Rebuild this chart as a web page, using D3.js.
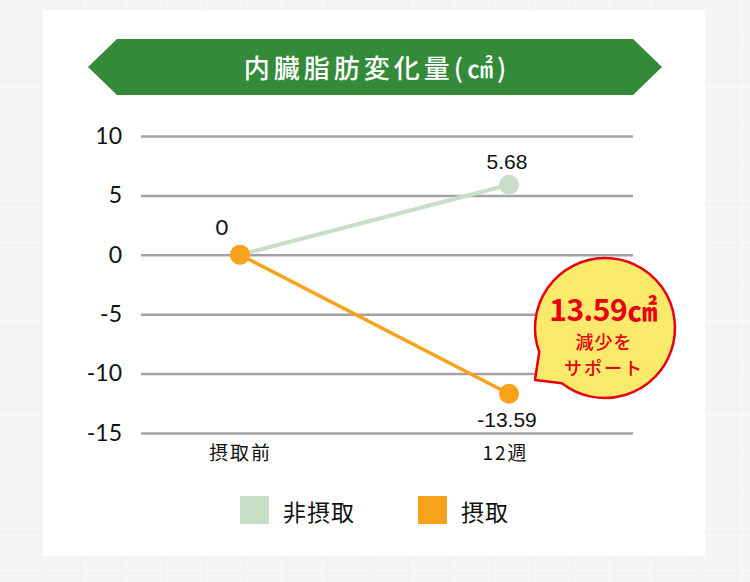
<!DOCTYPE html>
<html>
<head>
<meta charset="utf-8">
<script src="https://cdn.jsdelivr.net/npm/d3@7"></script>
<style>
  html, body { margin: 0; padding: 0; background: #f5f5f5; }
  svg { display: block; }
</style>
</head>
<body>
<div id="container"></div>
<script>
/* DATA */
var categories = ['摂取前', '12週'];
var seriesNames = ['非摂取', '摂取'];
var nonIntake = [0, 5.9];      // plotted position
var intake = [0, -11.7];       // plotted position
var nonIntakeLabels = [null, '5.68'];
var intakeLabels = ['0', '-13.59'];
var yTicks = [10, 5, 0, -5, -10, -15];
var colors = ['#c6dfc6', '#f8a11a'];

var width = 750,
    height = 582;

var svg = d3.select('#container').append('svg')
    .attr('width', width)
    .attr('height', height);

/* BACKGROUND GRID */
var bg = svg.append('g');
bg.selectAll('line.v').data(d3.range(40, width, 41))
  .enter().append('line')
    .attr('x1', function(d){ return d; }).attr('x2', function(d){ return d; })
    .attr('y1', 0).attr('y2', height)
    .attr('stroke', '#eeeeee').attr('stroke-width', 1);
bg.selectAll('line.h').data(d3.range(40, height, 41))
  .enter().append('line')
    .attr('y1', function(d){ return d; }).attr('y2', function(d){ return d; })
    .attr('x1', 0).attr('x2', width)
    .attr('stroke', '#eeeeee').attr('stroke-width', 1);

// white panel
svg.append('rect')
  .attr('x', 43).attr('y', 10)
  .attr('width', 662).attr('height', 546)
  .attr('fill', '#fff');

/* TITLE BANNER */
svg.append('path')
  .attr('d', 'M88,67 L117,39 L633,39 L662,67 L633,95 L117,95 Z')
  .attr('fill', '#338a39');
svg.append('text')
  .attr('x', 377).attr('y', 78)
  .attr('text-anchor', 'middle')
  .attr('fill', '#fff')
  .style('font-family', '"Noto Sans CJK JP", sans-serif')
  .style('font-weight', 500)
  .style('font-size', '26px')
  .style('letter-spacing', '4px')
  .text('内臓脂肪変化量(㎠)');

/* SCALES */
var x = d3.scalePoint()
  .domain(categories)
  .range([240, 509]);

var y = d3.scaleLinear()
  .domain([-15, 10])
  .range([433, 136]);

var gridLeft = 141, gridRight = 633;

/* Y AXIS + GRIDLINES */
var yAxis = svg.append('g')
  .attr('transform', 'translate(' + gridLeft + ',0)')
  .call(d3.axisLeft(y)
    .tickValues(yTicks)
    .tickFormat(function(d){ return String(d); })
    .tickSize(-(gridRight - gridLeft))
    .tickPadding(19));
yAxis.select('.domain').remove();
yAxis.selectAll('line')
  .attr('stroke', '#a3a3a3')
  .attr('stroke-width', 2.5);
yAxis.selectAll('text')
  .attr('fill', '#111')
  .style('font-family', 'Lato, sans-serif')
  .style('font-size', '23px');

/* X AXIS LABELS */
var xAxis = svg.append('g')
  .attr('transform', 'translate(0,433)')
  .call(d3.axisBottom(x).tickSize(0).tickPadding(14));
xAxis.select('.domain').remove();
xAxis.selectAll('text')
  .attr('fill', '#111')
  .style('font-family', '"Noto Sans CJK JP", sans-serif')
  .style('font-size', '19px')
  .style('letter-spacing', '2px');
xAxis.selectAll('.tick').filter(function(d){ return d === '12週'; })
  .select('text').attr('dx', -4);

/* LINES */
var line = d3.line()
  .x(function(d, i){ return x(categories[i]); })
  .y(function(d){ return y(d); });

svg.append('path')
  .datum(nonIntake)
  .attr('d', line)
  .attr('fill', 'none')
  .attr('stroke', colors[0])
  .attr('stroke-width', 4);

svg.append('path')
  .datum(intake)
  .attr('d', line)
  .attr('fill', 'none')
  .attr('stroke', colors[1])
  .attr('stroke-width', 3.5);

svg.append('g').selectAll('circle').data(nonIntake)
  .enter().append('circle')
    .attr('cx', function(d, i){ return x(categories[i]); })
    .attr('cy', function(d){ return y(d); })
    .attr('r', 10)
    .attr('fill', colors[0]);

svg.append('g').selectAll('circle').data(intake)
  .enter().append('circle')
    .attr('cx', function(d, i){ return x(categories[i]); })
    .attr('cy', function(d){ return y(d); })
    .attr('r', 10)
    .attr('fill', colors[1]);

/* VALUE LABELS */
svg.append('text')
  .attr('x', x(categories[0]) - 18)
  .attr('y', y(intake[0]) - 20)
  .attr('text-anchor', 'middle')
  .attr('fill', '#111')
  .style('font-family', 'Lato, sans-serif')
  .style('font-size', '22px')
  .text(intakeLabels[0]);

svg.append('text')
  .attr('x', x(categories[1]) - 2)
  .attr('y', y(nonIntake[1]) - 16)
  .attr('text-anchor', 'middle')
  .attr('fill', '#111')
  .style('font-family', '"Liberation Sans", Arial, sans-serif')
  .style('font-size', '21px')
  .text(nonIntakeLabels[1]);

svg.append('text')
  .attr('x', x(categories[1]) - 2)
  .attr('y', y(intake[1]) + 33)
  .attr('text-anchor', 'middle')
  .attr('fill', '#111')
  .style('font-family', '"Liberation Sans", Arial, sans-serif')
  .style('font-size', '21px')
  .text(intakeLabels[1]);

/* CALLOUT */
var cx = 605, cy = 328, r = 70;
var a1 = 160 * Math.PI / 180, a2 = 128 * Math.PI / 180;
var p1 = [cx + r * Math.cos(a1), cy + r * Math.sin(a1)];
var p2 = [cx + r * Math.cos(a2), cy + r * Math.sin(a2)];
svg.append('path')
  .attr('d', 'M' + p2[0] + ',' + p2[1] +
             ' L535,380 L' + p1[0] + ',' + p1[1] +
             ' A' + r + ',' + r + ' 0 1 1 ' + p2[0] + ',' + p2[1] + ' Z')
  .attr('fill', '#fbe96b')
  .attr('stroke', '#e60012')
  .attr('stroke-width', 2.5)
  .attr('stroke-linejoin', 'round');

var callout = svg.append('g')
  .attr('fill', '#e60012')
  .attr('text-anchor', 'middle')
  .style('font-family', '"Noto Sans CJK JP", sans-serif');
callout.append('text')
  .attr('x', 603).attr('y', 321)
  .style('font-weight', 700)
  .style('font-size', '30px')
  .style('letter-spacing', '-0.5px')
  .text('13.59㎠');
callout.append('text')
  .attr('x', 604).attr('y', 349)
  .style('font-weight', 500)
  .style('font-size', '18px')
  .style('letter-spacing', '1px')
  .text('減少を');
callout.append('text')
  .attr('x', 604).attr('y', 375)
  .style('font-weight', 500)
  .style('font-size', '18px')
  .style('letter-spacing', '2px')
  .text('サポート');

/* LEGEND */
var legendX = [240, 418];
var legend = svg.append('g').selectAll('g').data(seriesNames)
  .enter().append('g')
    .attr('transform', function(d, i){ return 'translate(' + legendX[i] + ',496)'; });
legend.append('rect')
  .attr('width', 29).attr('height', 28)
  .attr('fill', function(d, i){ return colors[i]; });
legend.append('text')
  .attr('x', 43).attr('y', 25)
  .attr('fill', '#111')
  .style('font-family', '"Noto Sans CJK JP", sans-serif')
  .style('font-size', '23px')
  .style('letter-spacing', '1px')
  .text(function(d){ return d; });
</script>
</body>
</html>
